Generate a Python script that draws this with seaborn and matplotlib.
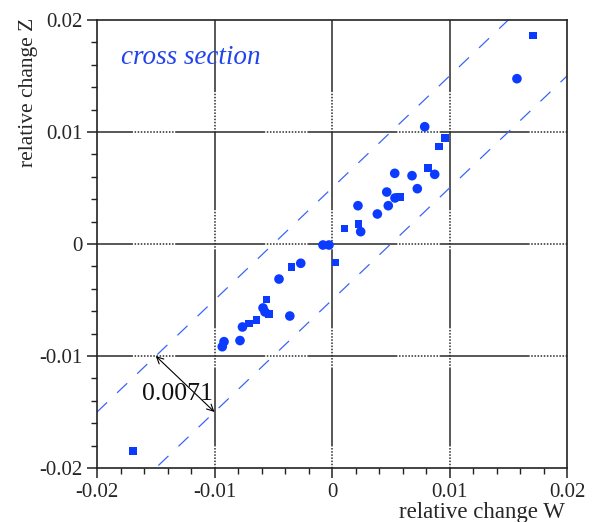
import matplotlib
matplotlib.use("Agg")
import numpy as np
import pandas as pd
import seaborn as sns
import matplotlib.pyplot as plt
from matplotlib.ticker import MultipleLocator, FixedLocator, FixedFormatter

# ---------------- data ----------------
w_vals = [0.01711, 0.01574, 0.00789, 0.00962, 0.00911, 0.00817, 0.00874, 0.00534,
          0.00681, 0.00726, 0.00466, 0.00536, 0.00581, 0.00479, 0.00221, 0.00386,
          0.00105, 0.00224, 0.00244, -0.00077, -0.00026, 0.00030, -0.00345, -0.00266,
          -0.00451, -0.00559, -0.00587, -0.00570, -0.00536, -0.00359, -0.00643,
          -0.00706, -0.00762, -0.00783, -0.00919, -0.00934, -0.01694]
z_vals = [0.01860, 0.01476, 0.01047, 0.00944, 0.00869, 0.00676, 0.00622, 0.00631,
          0.00610, 0.00494, 0.00464, 0.00411, 0.00417, 0.00342, 0.00342, 0.00268,
          0.00140, 0.00176, 0.00110, -0.00009, -0.00009, -0.00165, -0.00208, -0.00172,
          -0.00313, -0.00494, -0.00571, -0.00607, -0.00625, -0.00643, -0.00679,
          -0.00710, -0.00741, -0.00862, -0.00872, -0.00917, -0.01846]
shapes = ["square", "circle", "circle", "square", "square", "square", "circle", "circle",
          "circle", "circle", "circle", "circle", "square", "circle", "circle", "circle",
          "square", "square", "circle", "circle", "circle", "square", "square", "circle",
          "circle", "square", "circle", "circle", "square", "circle", "square",
          "square", "circle", "circle", "circle", "circle", "square"]

axis_lim = [-0.02, 0.02]
major_ticks = [-0.02, -0.01, 0.0, 0.01, 0.02]
tick_labels = ["-0.02", "-0.01", "0", "0.01", "0.02"]
grid_vals = [-0.01, 0.0, 0.01]
band_offset = 0.005
band_x = np.array([-0.02, 0.02])
arrow_start = (-0.015, -0.010)
arrow_end = (-0.010, -0.015)
arrow_label = "0.0071"
title_text = "cross section"

df = pd.DataFrame({"W": w_vals, "Z": z_vals, "shape": shapes})

# ---------------- style ----------------
sns.set_style("white")
plt.rcParams["font.family"] = ["Liberation Serif", "DejaVu Serif"]
plt.rcParams["axes.unicode_minus"] = False
plt.rcParams["lines.scale_dashes"] = False

blue = "#0b3bff"
band_blue = "#3a66f5"
grid_col = "#2a2a2a"

fig = plt.figure(figsize=(5.92, 5.22), dpi=100)
ax = fig.add_axes([97 / 592, 54 / 522, 470 / 592, 448 / 522])
ax.set_xlim(*axis_lim)
ax.set_ylim(*axis_lim)

# grid lines: solid runs interrupted by dotted runs
hseq = [64.8, 1.15] + [1.1, 1.15] * 13
vseq = [56.9, 1.15] + [1.1, 1.15] * 12
for g in grid_vals:
    ax.plot(axis_lim, [g, g], color=grid_col, lw=1.1, linestyle=(38.9, hseq),
            solid_capstyle="butt", dash_capstyle="butt", zorder=1)
    ax.plot([g, g], axis_lim[::-1], color=grid_col, lw=1.1, linestyle=(5.0, vseq),
            solid_capstyle="butt", dash_capstyle="butt", zorder=1)

# band lines
ax.plot(band_x, band_x + band_offset, color=band_blue, lw=0.9, dashes=(10, 10), zorder=2)
ax.plot(band_x, band_x - band_offset, color=band_blue, lw=0.9, dashes=(10, 10), zorder=2)

# points
sns.scatterplot(data=df, x="W", y="Z", style="shape", size="shape",
                markers={"circle": "o", "square": "s"},
                sizes={"circle": 48, "square": 30},
                color=blue, linewidth=0, legend=False, ax=ax, zorder=5)

# arrow + label
ax.annotate("", xy=arrow_start, xytext=arrow_end,
            arrowprops=dict(arrowstyle="<->", color="black", lw=0.8,
                            shrinkA=0, shrinkB=0, mutation_scale=12), zorder=6)
ax.text(-0.01315, -0.01393, arrow_label, fontsize=18.5, ha="center", va="baseline",
        color="#111111", zorder=7)
ax.text(-0.01796, 0.01607, title_text, fontsize=19.5, style="italic", color="#2244ee",
        ha="left", va="baseline")

# ticks
ax.xaxis.set_major_locator(FixedLocator(major_ticks))
ax.yaxis.set_major_locator(FixedLocator(major_ticks))
ax.xaxis.set_major_formatter(FixedFormatter(tick_labels))
ax.yaxis.set_major_formatter(FixedFormatter(tick_labels))
ax.xaxis.set_minor_locator(MultipleLocator(0.002))
ax.yaxis.set_minor_locator(MultipleLocator(0.002))
ax.tick_params(which="major", direction="out", length=7.5, width=1.1, color="#222222",
               labelsize=15, pad=3, top=False, right=False, bottom=True, left=True)
ax.tick_params(which="minor", direction="out", length=4.3, width=1.0, color="#222222",
               top=False, right=False, bottom=True, left=True)

for s in ax.spines.values():
    s.set_linewidth(1.2)
    s.set_color("#222222")
    s.set_zorder(8)

ax.set_xlabel("relative change W", fontsize=16.5, loc="right")
ax.set_ylabel("relative change Z", fontsize=15.5, loc="top")
ax.xaxis.set_label_coords(0.996, -0.076)
ax.yaxis.set_label_coords(-0.125, 1.004)

fig.savefig("out.png", dpi=100)
